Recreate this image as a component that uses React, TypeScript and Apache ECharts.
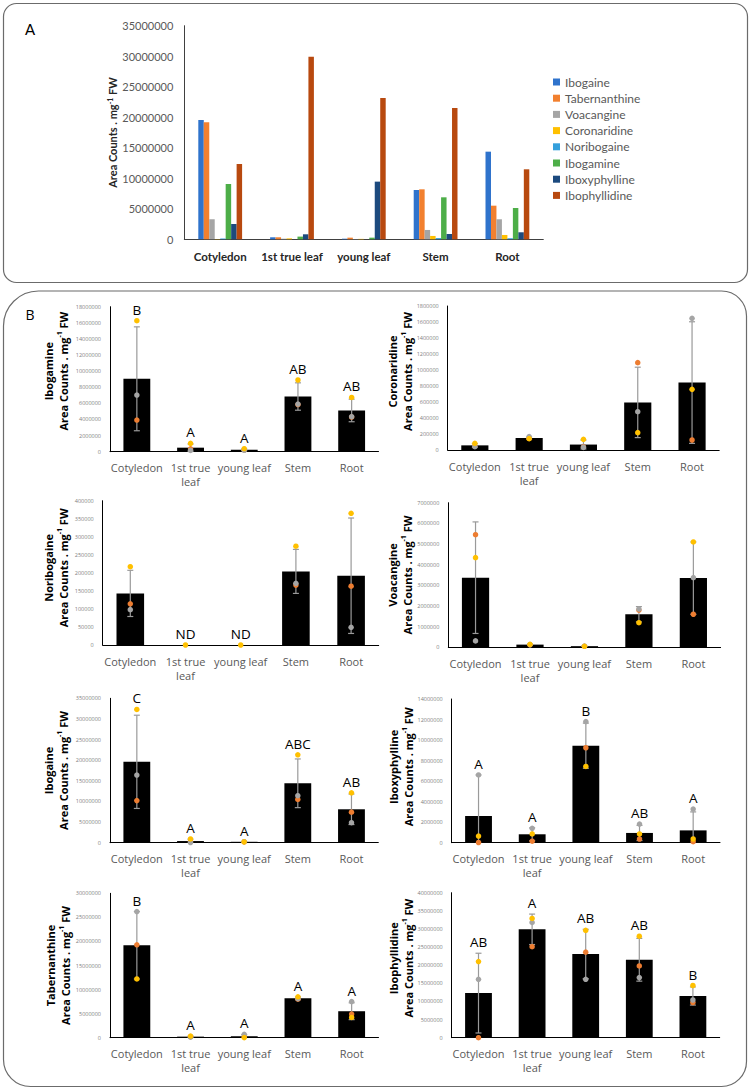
import React, { useEffect, useRef } from "react";
import * as echarts from "echarts";

// ---------- shared categories ----------
const categories = ["Cotyledon", "1st true leaf", "young leaf", "Stem", "Root"];

// ---------- Panel A (overview, means) ----------
const compoundNames = [
  "Ibogaine",
  "Tabernanthine",
  "Voacangine",
  "Coronaridine",
  "Noribogaine",
  "Ibogamine",
  "Iboxyphylline",
  "Ibophyllidine",
];
const overviewIbogaine = [19550000, 330000, 100000, 8080000, 14360000];
const overviewTabernanthine = [19200000, 330000, 270000, 8190000, 5510000];
const overviewVoacangine = [3280000, 100000, 40000, 1530000, 3280000];
const overviewCoronaridine = [60000, 150000, 70000, 550000, 710000];
const overviewNoribogaine = [140000, 0, 0, 200000, 190000];
const overviewIbogamine = [9060000, 440000, 270000, 6880000, 5130000];
const overviewIboxyphylline = [2510000, 820000, 9450000, 870000, 1150000];
const overviewIbophyllidine = [12340000, 29900000, 23150000, 21500000, 11470000];
const overviewAxis = [35000000, 5000000]; // max, interval

// ---------- Panel B (means, SD, replicates, letters) ----------
const ibogamineMean = [9050000, 500000, 250000, 6850000, 5120000];
const ibogamineSd = [6450000, 450000, 100000, 1700000, 1400000];
const ibogamineRep1 = [3930000, 350000, 200000, 5850000, 4300000];
const ibogamineRep2 = [7030000, 150000, 180000, 5920000, 4340000];
const ibogamineRep3 = [16260000, 1030000, 370000, 8900000, 6740000];
const ibogamineLetters = ["B", "A", "A", "AB", "AB"];
const ibogamineAxis = [18000000, 2000000];

const coronaridineMean = [58000, 150000, 68000, 595000, 843000];
const coronaridineSd = [22000, 13000, 55000, 440000, 760000];
const coronaridineRep1 = [50000, 145000, 40000, 1092000, 125000];
const coronaridineRep2 = [42000, 167000, 33000, 479000, 1646000];
const coronaridineRep3 = [83000, 142000, 133000, 217000, 758000];
const coronaridineLetters = ["", "", "", "", ""];
const coronaridineAxis = [1800000, 200000];

const noribogaineMean = [143000, 0, 0, 204000, 192000];
const noribogaineSd = [64000, null, null, 61000, 160000];
const noribogaineRep1 = [114000, null, null, 166000, 163000];
const noribogaineRep2 = [98000, null, null, 171000, 49000];
const noribogaineRep3 = [217000, 0, 0, 274000, 365000];
const noribogaineLetters = ["", "ND", "ND", "", ""];
const noribogaineAxis = [400000, 50000];

const voacangineMean = [3370000, 130000, 55000, 1600000, 3350000];
const voacangineSd = [2700000, 20000, 10000, 370000, 1750000];
const voacangineRep1 = [5450000, 120000, 50000, 1800000, 1600000];
const voacangineRep2 = [310000, 130000, 60000, 1850000, 3370000];
const voacangineRep3 = [4340000, 145000, 50000, 1190000, 5100000];
const voacangineLetters = ["", "", "", "", ""];
const voacangineAxis = [7000000, 1000000];

const ibogaineMean = [19600000, 400000, 220000, 14400000, 8100000];
const ibogaineSd = [11300000, 450000, 30000, 5900000, 3700000];
const ibogaineRep1 = [10200000, 300000, 200000, 10500000, 7400000];
const ibogaineRep2 = [16400000, 50000, 250000, 11400000, 4850000];
const ibogaineRep3 = [32300000, 900000, 200000, 21300000, 12100000];
const ibogaineLetters = ["C", "A", "A", "ABC", "AB"];
const ibogaineAxis = [35000000, 5000000];

const iboxyphyllineMean = [2600000, 820000, 9450000, 950000, 1200000];
const iboxyphyllineSd = [4000000, 630000, 2200000, 740000, 1800000];
const iboxyphyllineRep1 = [20000, 150000, 9250000, 360000, 100000];
const iboxyphyllineRep2 = [6600000, 1400000, 11800000, 1820000, 3280000];
const iboxyphyllineRep3 = [650000, 850000, 7430000, 850000, 360000];
const iboxyphyllineLetters = ["A", "A", "B", "AB", "A"];
const iboxyphyllineAxis = [14000000, 2000000];

const tabernanthineMean = [19200000, 220000, 300000, 8200000, 5500000];
const tabernanthineSd = [7000000, 120000, 350000, 270000, 1750000];
const tabernanthineRep1 = [19300000, 200000, 200000, 8000000, 4900000];
const tabernanthineRep2 = [26200000, 100000, 700000, 8100000, 7500000];
const tabernanthineRep3 = [12200000, 350000, 20000, 8500000, 4200000];
const tabernanthineLetters = ["B", "A", "A", "A", "A"];
const tabernanthineAxis = [30000000, 5000000];

const ibophyllidineMean = [12300000, 29900000, 23100000, 21500000, 11500000];
const ibophyllidineSd = [11000000, 4200000, 6800000, 5900000, 2500000];
const ibophyllidineRep1 = [0, 25100000, 23600000, 19800000, 9700000];
const ibophyllidineRep2 = [16100000, 31800000, 16100000, 16600000, 10400000];
const ibophyllidineRep3 = [21000000, 32900000, 29600000, 28000000, 14400000];
const ibophyllidineLetters = ["AB", "A", "AB", "AB", "B"];
const ibophyllidineAxis = [40000000, 5000000];

// ---------- styles / layout ----------
const overviewColors = [
  "#2F73CC",
  "#F2802F",
  "#A5A5A5",
  "#FFC000",
  "#35A0DC",
  "#4DAE48",
  "#1C4A7E",
  "#B8490F",
];
const repColors = ["#ED7D31", "#A5A5A5", "#FFC000"];

const panels = [
  {
    title: "Ibogamine", mean: ibogamineMean, sd: ibogamineSd,
    reps: [ibogamineRep1, ibogamineRep2, ibogamineRep3], letters: ibogamineLetters, axis: ibogamineAxis,
    grid: { left: 110, top: 306.7, width: 268.5, height: 145 }, gap: 39, shift: 8,
  },
  {
    title: "Coronaridine", mean: coronaridineMean, sd: coronaridineSd,
    reps: [coronaridineRep1, coronaridineRep2, coronaridineRep3], letters: coronaridineLetters, axis: coronaridineAxis,
    grid: { left: 447.7, top: 306, width: 271.5, height: 144 }, gap: 32, shift: 6.5,
  },
  {
    title: "Noribogaine", mean: noribogaineMean, sd: noribogaineSd,
    reps: [noribogaineRep1, noribogaineRep2, noribogaineRep3], letters: noribogaineLetters, axis: noribogaineAxis,
    grid: { left: 102.7, top: 500.7, width: 276, height: 144.3 }, gap: 32, shift: 5,
  },
  {
    title: "Voacangine", mean: voacangineMean, sd: voacangineSd,
    reps: [voacangineRep1, voacangineRep2, voacangineRep3], letters: voacangineLetters, axis: voacangineAxis,
    grid: { left: 448.3, top: 502.7, width: 272.3, height: 144.6 }, gap: 33, shift: 0,
  },
  {
    title: "Ibogaine", mean: ibogaineMean, sd: ibogaineSd,
    reps: [ibogaineRep1, ibogaineRep2, ibogaineRep3], letters: ibogaineLetters, axis: ibogaineAxis,
    grid: { left: 110, top: 698.3, width: 268.3, height: 144.4 }, gap: 39.5, shift: 0,
  },
  {
    title: "Iboxyphylline", mean: iboxyphyllineMean, sd: iboxyphyllineSd,
    reps: [iboxyphyllineRep1, iboxyphyllineRep2, iboxyphyllineRep3], letters: iboxyphyllineLetters, axis: iboxyphyllineAxis,
    grid: { left: 451.7, top: 699, width: 268.3, height: 143.7 }, gap: 36, shift: 4,
  },
  {
    title: "Tabernanthine", mean: tabernanthineMean, sd: tabernanthineSd,
    reps: [tabernanthineRep1, tabernanthineRep2, tabernanthineRep3], letters: tabernanthineLetters, axis: tabernanthineAxis,
    grid: { left: 110, top: 893.3, width: 268.5, height: 144.4 }, gap: 37.5, shift: 0,
  },
  {
    title: "Ibophyllidine", mean: ibophyllidineMean, sd: ibophyllidineSd,
    reps: [ibophyllidineRep1, ibophyllidineRep2, ibophyllidineRep3], letters: ibophyllidineLetters, axis: ibophyllidineAxis,
    grid: { left: 451.7, top: 892.7, width: 268, height: 145 }, gap: 36, shift: 7,
  },
];

const overviewSeriesData = [
  overviewIbogaine,
  overviewTabernanthine,
  overviewVoacangine,
  overviewCoronaridine,
  overviewNoribogaine,
  overviewIbogamine,
  overviewIboxyphylline,
  overviewIbophyllidine,
];

function buildOption() {
  const grids: any[] = [{ left: 184.3, top: 25.7, width: 359, height: 213.6 }];
  const xAxes: any[] = [
    {
      type: "category",
      gridIndex: 0,
      data: categories,
      axisLine: { lineStyle: { color: "#404040", width: 1 } },
      axisTick: { show: false },
      axisLabel: {
        interval: 0,
        fontFamily: "Lato",
        fontWeight: "bold",
        fontSize: 11.5,
        color: "#262626",
        margin: 11,
      },
    },
  ];
  const yAxes: any[] = [
    {
      type: "value",
      gridIndex: 0,
      min: 0,
      max: overviewAxis[0],
      interval: overviewAxis[1],
      axisLine: { show: true, lineStyle: { color: "#404040", width: 1 } },
      axisTick: { show: false },
      splitLine: { show: false },
      axisLabel: {
        fontFamily: "Lato",
        fontSize: 11,
        color: "#595959",
        margin: 11,
        formatter: (v: number) => String(v),
      },
      name: "{t|Area Counts . mg}{s|-1}{t| FW}",
      nameLocation: "middle",
      nameRotate: 90,
      nameGap: 65,
      nameTextStyle: {
        rich: {
          t: { fontFamily: "Lato", fontWeight: "bold", fontSize: 11, lineHeight: 13, color: "#262626" },
          s: { fontFamily: "Lato", fontWeight: "bold", fontSize: 7, lineHeight: 8, verticalAlign: "top", color: "#262626" },
        },
      },
    },
  ];
  const series: any[] = overviewSeriesData.map((d, k) => ({
    type: "bar",
    name: compoundNames[k],
    xAxisIndex: 0,
    yAxisIndex: 0,
    data: d,
    barGap: "0%",
    barCategoryGap: "39%",
    itemStyle: { color: overviewColors[k] },
  }));

  panels.forEach((p, idx) => {
    const gi = idx + 1;
    grids.push(p.grid);
    xAxes.push({
      type: "category",
      gridIndex: gi,
      data: categories,
      axisLine: { lineStyle: { color: "#000", width: 1 } },
      axisTick: { show: false },
      axisLabel: {
        interval: 0,
        fontFamily: "Open Sans",
        fontSize: 11,
        lineHeight: 14,
        color: "#595959",
        margin: 9,
        formatter: (v: string) => (v === "1st true leaf" ? "1st true\nleaf" : v),
      },
    });
    yAxes.push({
      type: "value",
      gridIndex: gi,
      min: 0,
      max: p.axis[0],
      interval: p.axis[1],
      axisLine: { show: true, lineStyle: { color: "#000", width: 1 } },
      axisTick: { show: false },
      splitLine: { show: false },
      axisLabel: {
        fontFamily: "Open Sans",
        fontSize: 5.5,
        color: "#808080",
        margin: 9,
        formatter: (v: number) => String(v),
      },
      name: `{t|${p.title}}\n{t|Area Counts . mg}{s|-1}{t| FW}`,
      nameLocation: "middle",
      nameRotate: 90,
      nameGap: p.gap,
      nameTextStyle: {
        padding: [0, 0, 0, p.shift * 2],
        rich: {
          t: { fontFamily: "Open Sans", fontWeight: "bold", fontSize: 11, lineHeight: 15, color: "#000" },
          s: { fontFamily: "Open Sans", fontWeight: "bold", fontSize: 7, lineHeight: 9, verticalAlign: "top", color: "#000" },
        },
      },
    });
    series.push({
      type: "bar",
      name: p.title + " mean",
      xAxisIndex: gi,
      yAxisIndex: gi,
      data: p.mean,
      barWidth: "50%",
      itemStyle: { color: "#000" },
      z: 2,
      silent: true,
    });
    series.push({
      type: "custom",
      name: p.title + " sd",
      xAxisIndex: gi,
      yAxisIndex: gi,
      clip: false,
      z: 3,
      silent: true,
      data: p.mean.map((m, i) => [i, m]),
      renderItem: (params: any, api: any) => {
        const i = params.dataIndex;
        const m = p.mean[i] as number;
        const s = p.sd[i] as number | null;
        const children: any[] = [];
        const cx = api.coord([i, 0])[0];
        let top = m;
        const ls = { stroke: "#9a9a9a", lineWidth: 1.2 };
        if (s != null) {
          const hi = m + s;
          const lo = Math.max(0, m - s);
          const yHi = api.coord([i, hi])[1];
          const yLo = api.coord([i, lo])[1];
          children.push({ type: "line", shape: { x1: cx, y1: yHi, x2: cx, y2: yLo }, style: ls });
          children.push({ type: "line", shape: { x1: cx - 3, y1: yHi, x2: cx + 3, y2: yHi }, style: ls });
          if (m - s > 0) {
            children.push({ type: "line", shape: { x1: cx - 3, y1: yLo, x2: cx + 3, y2: yLo }, style: ls });
          }
          top = hi;
        }
        p.reps.forEach((r) => {
          const v = r[i];
          if (v != null && v > top) top = v;
        });
        const letter = p.letters[i];
        if (letter) {
          children.push({
            type: "text",
            x: cx,
            y: api.coord([i, top])[1] - 11,
            style: {
              text: letter,
              fontFamily: "Open Sans",
              fontSize: 13.5,
              fill: "#000",
              align: "center",
              verticalAlign: "middle",
            },
          });
        }
        return { type: "group", children };
      },
    });
    p.reps.forEach((r, k) => {
      series.push({
        type: "scatter",
        name: p.title + " rep" + (k + 1),
        xAxisIndex: gi,
        yAxisIndex: gi,
        data: r.map((v, i) => [i, v]).filter((d) => d[1] != null),
        symbolSize: 5.5,
        itemStyle: { color: repColors[k], opacity: 1 },
        z: 4,
        silent: true,
      });
    });
  });

  return {
    animation: false,
    backgroundColor: "#fff",
    grid: grids,
    xAxis: xAxes,
    yAxis: yAxes,
    legend: {
      data: compoundNames,
      orient: "vertical",
      left: 548,
      top: 71,
      itemWidth: 7,
      itemHeight: 7,
      itemGap: 4.2,
      icon: "rect",
      selectedMode: false,
      textStyle: { fontFamily: "Lato", fontSize: 12, lineHeight: 12, color: "#595959" },
    },
    graphic: [
      {
        type: "rect",
        silent: true,
        z: -10,
        shape: { x: 3.5, y: 3.5, width: 744, height: 279, r: 13 },
        style: { fill: "none", stroke: "#6b6b6b", lineWidth: 1.2 },
      },
      {
        type: "rect",
        silent: true,
        z: -10,
        shape: { x: 3.5, y: 291, width: 743, height: 795.5, r: [35, 25, 25, 27] },
        style: { fill: "none", stroke: "#6b6b6b", lineWidth: 1.2 },
      },
      {
        type: "text",
        x: 30,
        y: 29,
        style: { text: "A", fontFamily: "Lato", fontSize: 15, fill: "#000", align: "center", verticalAlign: "middle" },
      },
      {
        type: "text",
        x: 30,
        y: 314,
        style: { text: "B", fontFamily: "Open Sans", fontSize: 14, fill: "#000", align: "center", verticalAlign: "middle" },
      },
    ],
    series,
  };
}

export default function App() {
  const ref = useRef<HTMLDivElement>(null);
  useEffect(() => {
    if (!ref.current) return;
    const chart = echarts.init(ref.current, undefined, { renderer: "svg" });
    chart.setOption(buildOption() as any);
    return () => chart.dispose();
  }, []);
  return (
    <div
      ref={ref}
      style={{ position: "absolute", left: 0, top: 0, width: 751, height: 1090, background: "#fff" }}
    />
  );
}
